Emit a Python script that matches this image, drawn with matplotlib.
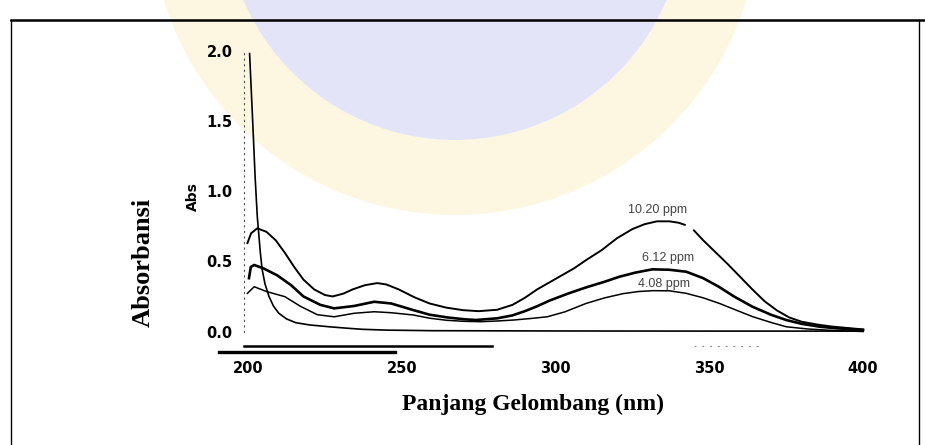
import numpy as np
import matplotlib
matplotlib.use("Agg")
import matplotlib.pyplot as plt
from matplotlib.patches import Circle, Wedge
from matplotlib.lines import Line2D

# UV-Vis absorption spectra (wavelength in nm, absorbance)
wl_1020 = [199.8, 201, 203, 206, 209, 212, 215, 218, 221.5, 225, 227.5, 231, 234,
           238, 242, 245, 249, 254, 259, 264.5, 270, 275, 281, 286, 290, 294, 298,
           302, 306, 310, 315, 320, 325, 329, 333, 337, 340, 342, 343, 345, 348,
           352, 356, 360, 364, 368, 372, 376, 380, 385, 390, 395, 400]
abs_1020 = [0.63, 0.70, 0.735, 0.71, 0.65, 0.56, 0.46, 0.37, 0.30, 0.26, 0.25, 0.27,
            0.30, 0.33, 0.345, 0.335, 0.30, 0.245, 0.20, 0.17, 0.152, 0.145, 0.155,
            0.19, 0.24, 0.30, 0.35, 0.40, 0.45, 0.51, 0.58, 0.665, 0.73, 0.765,
            0.785, 0.785, 0.775, 0.76, np.nan, 0.72, 0.65, 0.565, 0.48, 0.39, 0.30,
            0.215, 0.15, 0.10, 0.07, 0.05, 0.035, 0.025, 0.015]

wl_612 = [200.3, 200.9, 202, 205, 209.5, 214, 218, 223.5, 228, 234.5, 241, 246.5,
          253.7, 259, 264.6, 270, 274, 281, 286, 290, 294, 298, 304, 310, 316, 320.7,
          326, 331.5, 337, 342.5, 348, 353, 358, 364, 370, 375, 380, 386, 392, 400]
abs_612 = [0.38, 0.46, 0.474, 0.45, 0.40, 0.33, 0.25, 0.19, 0.165, 0.182, 0.212,
           0.20, 0.153, 0.12, 0.101, 0.088, 0.082, 0.094, 0.115, 0.145, 0.18, 0.22,
           0.27, 0.315, 0.355, 0.39, 0.42, 0.443, 0.44, 0.426, 0.38, 0.32, 0.25,
           0.177, 0.12, 0.082, 0.055, 0.034, 0.022, 0.011]

wl_408 = [199.8, 202, 206, 212, 217, 222.5, 228, 234.5, 241, 246.5, 253.7, 259,
          264.6, 270, 275.5, 281, 286.4, 292, 297.3, 303, 309.9, 316, 322, 327,
          331.6, 337, 342.5, 348, 353.3, 359, 364.2, 370, 375, 382, 390, 400]
abs_408 = [0.272, 0.319, 0.285, 0.248, 0.18, 0.12, 0.105, 0.13, 0.141, 0.134, 0.118,
           0.095, 0.08, 0.073, 0.07, 0.075, 0.082, 0.093, 0.105, 0.14, 0.20, 0.24,
           0.27, 0.285, 0.291, 0.29, 0.272, 0.24, 0.20, 0.15, 0.105, 0.065, 0.034,
           0.018, 0.008, 0.0]

wl_blank = [200.5, 201.5, 202.3, 203, 204, 204.6, 205.5, 206.8, 208.3, 210, 212.5,
            215.5, 220, 226.3, 232, 237, 245, 260, 300, 350, 400]
abs_blank = [1.98, 1.50, 1.10, 0.82, 0.56, 0.44, 0.34, 0.25, 0.18, 0.13, 0.09,
             0.063, 0.047, 0.034, 0.024, 0.016, 0.01, 0.006, 0.004, 0.003, 0.003]

x_ticks = [200, 250, 300, 350, 400]
y_ticks = [0.0, 0.5, 1.0, 1.5, 2.0]
labels = ["10.20 ppm", "6.12 ppm", "4.08 ppm"]

W, H = 925, 445
fig = plt.figure(figsize=(W / 100, H / 100), dpi=100)

# background layer in pixel units: faint emblem + frame
bg = fig.add_axes([0, 0, 1, 1])
bg.set_xlim(0, W)
bg.set_ylim(H, 0)
bg.axis("off")
bg.add_patch(Wedge((455, -90), 305, 0, 360, width=75, color="#fdf7e2", lw=0,
                   zorder=0))
bg.add_patch(Circle((455, -90), 230, color="#e4e4f8", lw=0, zorder=0))
bg.add_line(Line2D([11, 925], [20, 20], color="black", lw=1.8))
bg.add_line(Line2D([11, 11], [20, 445], color="black", lw=1.0))
bg.add_line(Line2D([919, 919], [20, 445], color="black", lw=1.0))

ax = fig.add_axes([0.2183, 0.1919, 0.7314, 0.7256])
ax.set_facecolor("none")
ax.set_xlim(185, 405)
ax.set_ylim(-0.2, 2.1)

ax.plot(wl_blank, abs_blank, color="black", lw=1.2)
ax.plot(wl_1020, abs_1020, color="black", lw=1.4)
ax.plot(wl_612, abs_612, color="black", lw=1.9)
ax.plot(wl_408, abs_408, color="black", lw=1.1)

# broken axis rules under the plot
ax.plot([198.7, 279.3], [-0.103, -0.103], color="black", lw=1.8)
ax.plot([190.6, 247.8], [-0.146, -0.146], color="black", lw=2.4)
ax.plot([345, 366], [-0.103, -0.103], color="#888888", lw=0.7, ls=(0, (2, 6)))

for (x, y), lab in zip([(333.3, 0.865), (336.6, 0.523), (335.3, 0.338)], labels):
    ax.text(x, y, lab, ha="center", va="center", fontsize=9,
            family="Liberation Sans", color="#444444")

for s in ["top", "right", "bottom"]:
    ax.spines[s].set_visible(False)
ax.spines["left"].set_position(("data", 198.8))
ax.spines["left"].set_bounds(0, 2.0)
ax.spines["left"].set_linestyle((0, (1, 4)))
ax.spines["left"].set_color("#555555")
ax.spines["left"].set_linewidth(0.8)

ax.set_xticks(x_ticks)
ax.set_xticklabels([str(t) for t in x_ticks])
ax.set_yticks(y_ticks)
ax.set_yticklabels(["%.1f" % t for t in y_ticks])
ax.tick_params(axis="both", length=0, labelsize=10.5)
ax.tick_params(axis="y", pad=8.5)
ax.tick_params(axis="x", pad=1)
for t in ax.get_xticklabels() + ax.get_yticklabels():
    t.set_fontweight("bold")

fig.text(193 / W, 1 - 197 / H, "Abs", rotation=90, ha="center", va="center",
         fontsize=10, fontweight="bold")
fig.text(143 / W, 1 - 262 / H, "Absorbansi", rotation=90, ha="center",
         va="center", fontsize=19, fontweight="bold", family="Liberation Serif")
fig.text(533 / W, 1 - 404 / H, "Panjang Gelombang (nm)", ha="center",
         va="center", fontsize=17, fontweight="bold", family="Liberation Serif")

fig.savefig("out.png", dpi=100)
